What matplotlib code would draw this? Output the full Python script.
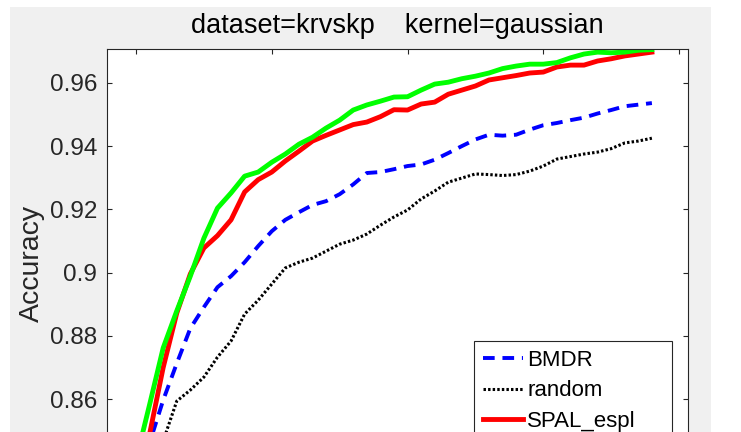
import matplotlib
matplotlib.use("Agg")
import matplotlib.pyplot as plt
from matplotlib.patches import Rectangle

plt.rcParams['font.family'] = ['Liberation Sans', 'DejaVu Sans']

# number of labelled samples
queries = [100, 110, 120, 130, 140, 150, 160, 170, 180, 190,
           200, 210, 220, 230, 240, 250, 260, 270, 280, 290,
           300, 310, 320, 330, 340, 350, 360, 370, 380, 390,
           400, 410, 420, 430, 440, 450, 460, 470, 480]

acc_bmdr = [0.8329, 0.8462, 0.8597, 0.8713, 0.8824, 0.8891, 0.8954, 0.8989, 0.9033, 0.9084,
            0.9131, 0.9167, 0.9191, 0.9214, 0.9226, 0.9248, 0.9279, 0.9315, 0.9318, 0.9327,
            0.9337, 0.9342, 0.9357, 0.9378, 0.9400, 0.9421, 0.9436, 0.9433, 0.9436, 0.9452,
            0.9466, 0.9473, 0.9482, 0.9490, 0.9503, 0.9514, 0.9526, 0.9531, 0.9536]

acc_random = [0.8218, 0.8338, 0.8468, 0.8594, 0.8629, 0.8670, 0.8733, 0.8784, 0.8869, 0.8913,
              0.8964, 0.9015, 0.9033, 0.9046, 0.9068, 0.9090, 0.9103, 0.9122, 0.9150, 0.9176,
              0.9198, 0.9233, 0.9258, 0.9286, 0.9299, 0.9312, 0.9310, 0.9307, 0.9310, 0.9321,
              0.9337, 0.9359, 0.9367, 0.9375, 0.9381, 0.9392, 0.9410, 0.9416, 0.9425]

acc_spal_espl = [0.8290, 0.8490, 0.8700, 0.8872, 0.8996, 0.9078, 0.9117, 0.9167, 0.9255, 0.9294,
                 0.9318, 0.9353, 0.9384, 0.9416, 0.9434, 0.9451, 0.9468, 0.9476, 0.9493, 0.9515,
                 0.9514, 0.9533, 0.9539, 0.9564, 0.9577, 0.9590, 0.9609, 0.9616, 0.9623, 0.9631,
                 0.9634, 0.9650, 0.9656, 0.9656, 0.9669, 0.9676, 0.9685, 0.9691, 0.9697]

acc_spal = [0.8408, 0.8583, 0.8762, 0.8879, 0.8989, 0.9109, 0.9204, 0.9252, 0.9305, 0.9318,
            0.9349, 0.9375, 0.9406, 0.9428, 0.9457, 0.9482, 0.9514, 0.9530, 0.9542, 0.9555,
            0.9556, 0.9577, 0.9596, 0.9602, 0.9613, 0.9621, 0.9631, 0.9645, 0.9653, 0.9659,
            0.9659, 0.9664, 0.9679, 0.9691, 0.9697, 0.9695, 0.9697, 0.9703, 0.9705]

yticks = [0.86, 0.88, 0.90, 0.92, 0.94, 0.96]
yticklabels = ['0.86', '0.88', '0.9', '0.92', '0.94', '0.96']
xticks = [100, 200, 300, 400, 500]

W, H = 741, 432
fig = plt.figure(figsize=(W / 100, H / 100), dpi=100, facecolor='white')

# grey figure panel behind the axes
fig.patches.append(Rectangle((10 / W, 0), 701 / W, 425 / H, transform=fig.transFigure,
                             facecolor='#f0f0f0', edgecolor='none', zorder=-10))

ax = fig.add_axes([106.7 / W, -0.1072, 581.3 / W, 0.9931])
ax.set_facecolor('white')

ax.plot(queries, acc_bmdr, color='blue', lw=2.8, linestyle=(0, (3, 2)), label='BMDR')
ax.plot(queries, acc_random, color='black', lw=2.2, linestyle=(0, (0.8, 0.7)), label='random')
ax.plot(queries, acc_spal_espl, color='red', lw=3.5, label='SPAL_espl')
ax.plot(queries, acc_spal, color='#00ff00', lw=3.5, label='SPAL_greedy')

ax.set_xlim(78.4, 506.6)
ax.set_ylim(0.835, 0.9706)
ax.set_yticks(yticks)
ax.set_yticklabels(yticklabels)
ax.set_xticks(xticks)
ax.set_xticklabels([])

for s in ax.spines.values():
    s.set_color('#262626')
    s.set_linewidth(0.8)
ax.tick_params(direction='in', length=3.6, width=0.8, colors='#262626',
               labelsize=17.5, top=True, right=True, pad=7)

ax.set_ylabel('Accuracy', fontsize=20.5, color='#262626', labelpad=3)
ax.set_title('dataset=krvskp    kernel=gaussian', fontsize=19.5, color='black', pad=12)

leg = ax.legend(loc='upper left', bbox_to_anchor=(474 / W, 1 - 341 / H),
                bbox_transform=fig.transFigure, borderaxespad=0, fontsize=16,
                fancybox=False, framealpha=1, edgecolor='#262626',
                labelspacing=0.43, handlelength=1.8, handletextpad=0.2, borderpad=0.4)
leg.get_frame().set_linewidth(0.8)

fig.savefig('out.png', dpi=100, facecolor=fig.get_facecolor())
